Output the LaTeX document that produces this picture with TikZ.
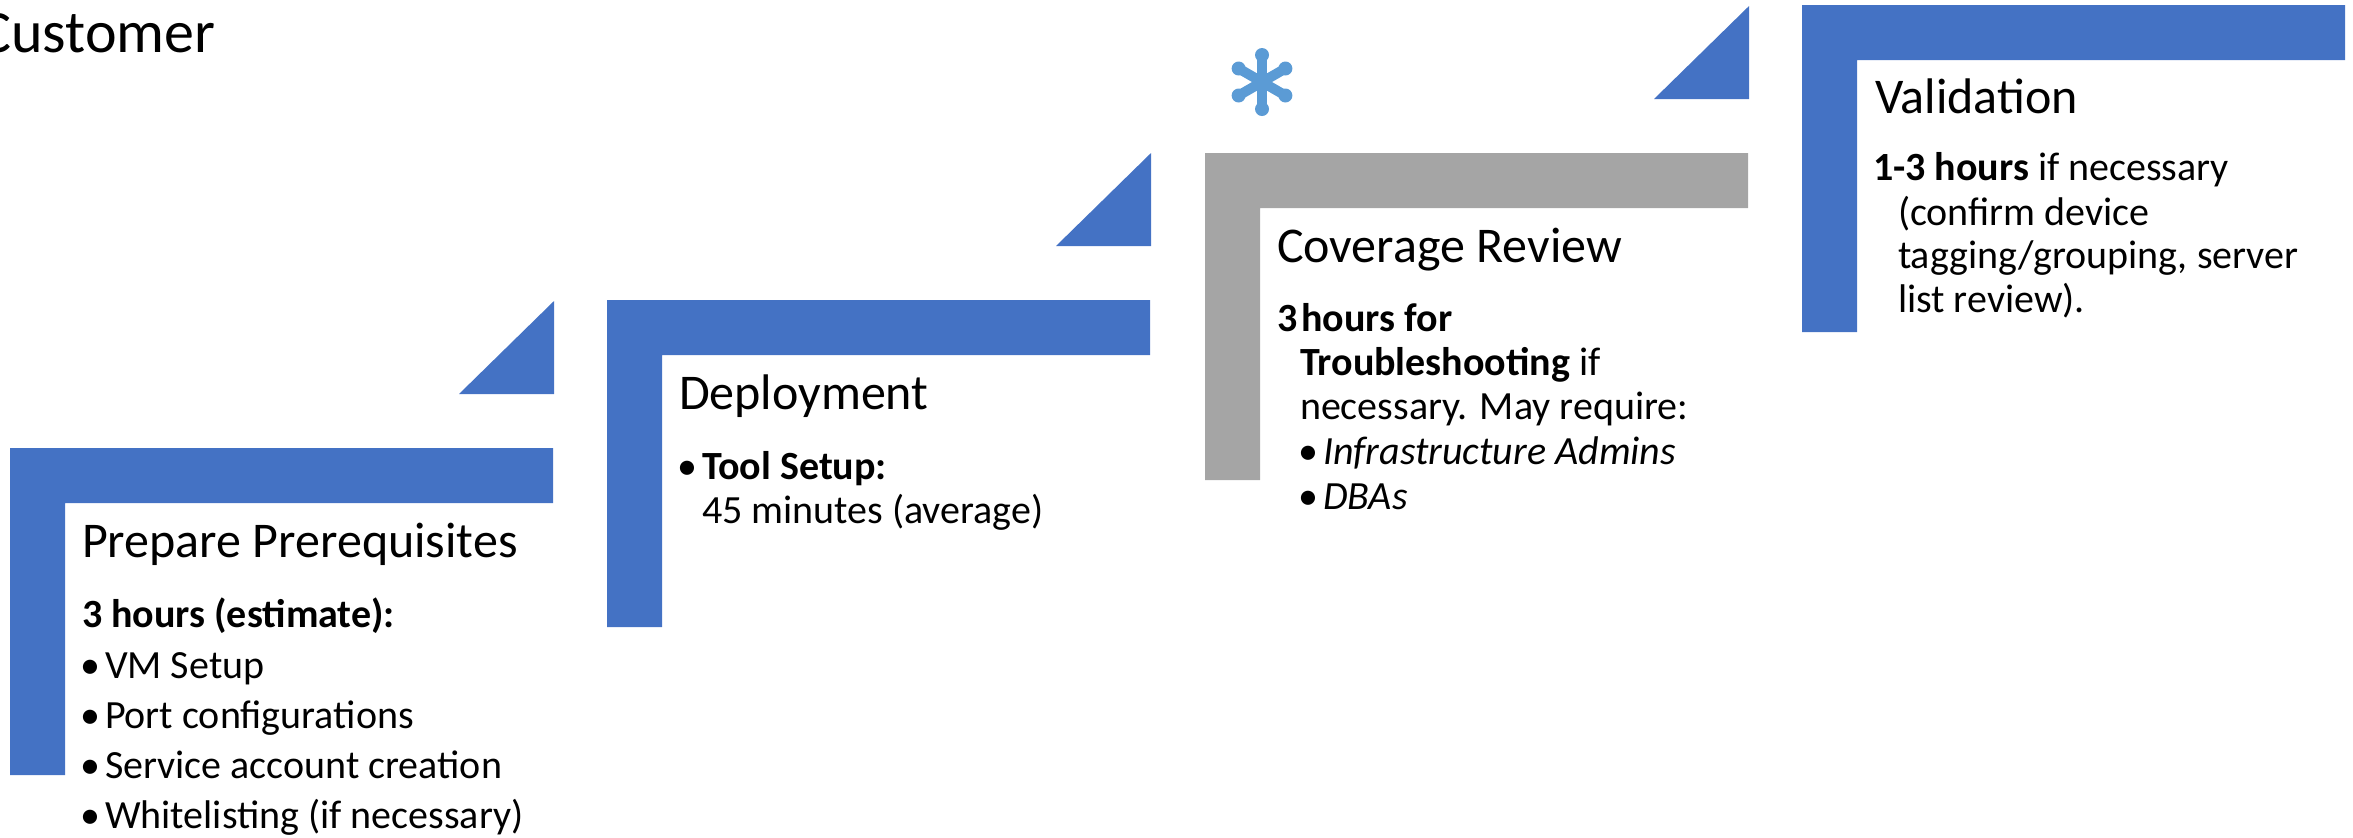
\documentclass[tikz,border=0pt]{standalone}
\usepackage{fontspec}
\setmainfont{Carlito}
\usetikzlibrary{calc}
\definecolor{blueacc}{HTML}{4472C4}
\definecolor{grayacc}{HTML}{A5A5A5}
\definecolor{astblue}{HTML}{5B9BD5}
\begin{document}
\begin{tikzpicture}[x=0.5pt,y=-0.5pt,
  txt/.style={anchor=base west, inner sep=0pt, outer sep=0pt, font=\fontsize{20}{24}\selectfont},
  head/.style={anchor=base west, inner sep=0pt, outer sep=0pt, font=\fontsize{25}{30}\selectfont},
  bul/.style={anchor=base, inner sep=0pt, outer sep=0pt, font=\fontsize{20}{24}\selectfont},
  lshape/.pic={\fill[pic actions] (0,0) -- (543,0) -- (543,55) -- (55,55) -- (55,327) -- (0,327) -- cycle;},
  stair/.pic={\fill[pic actions] (449,-54) -- (544,-54) -- (544,-147) -- cycle;},
  arm/.style={line width=5pt, draw=astblue},
  armend/.style={fill=astblue}
]
\useasboundingbox (0,0) rectangle (2353,837);

% title
\node[anchor=base west, inner sep=0pt, font=\fontsize{30}{36}\selectfont] (title) at (-21,52) {Customer};

% shapes
\pic[fill=blueacc] at (10,448) {lshape};
\pic[fill=blueacc] at (10,448) {stair};
\pic[fill=blueacc] at (607,300) {lshape};
\pic[fill=blueacc] at (607,300) {stair};
\pic[fill=grayacc] at (1205,153) {lshape};
\pic[fill=blueacc] at (1205,153) {stair};
\pic[fill=blueacc] at (1802,5) {lshape};

% asterisk
\coordinate (ast) at (1262,82);
\foreach \a in {90,30,-30}{
  \draw[arm] ($(ast)+(\a:-27)$) -- ($(ast)+(\a:27)$);
  \fill[armend] ($(ast)+(\a:27)$) circle[radius=7];
  \fill[armend] ($(ast)+(\a:-27)$) circle[radius=7];
}

% stage 1
\node[head] (h1) at (82,557) {Prepare Prerequisites};
\node[txt] (t1a) at (82,627) {\textbf{3 hours (estimate):}};
\node[bul] (b1a) at (90,678) {•};
\node[txt] (t1b) at (105,678) {VM Setup};
\node[bul] (b1b) at (90,728) {•};
\node[txt] (t1c) at (105,728) {Port configurations};
\node[bul] (b1c) at (90,778) {•};
\node[txt] (t1d) at (105,778) {Service account creation};
\node[bul] (b1d) at (90,828) {•};
\node[txt] (t1e) at (105,828) {Whitelisting (if necessary)};

% stage 2
\node[head] (h2) at (679,409) {Deployment};
\node[bul] (b2a) at (687,479) {•};
\node[txt] (t2a) at (702,479) {\textbf{Tool Setup:}};
\node[txt] (t2b) at (702,523) {45 minutes (average)};

% stage 3
\node[head] (h3) at (1277,262) {Coverage Review};
\node[txt] (t3a) at (1277,331) {\textbf{3\hspace{0.1em}hours for}};
\node[txt] (t3b) at (1300,375) {\textbf{Troubleshooting} if};
\node[txt] (t3c) at (1300,419) {necessary. May require:};
\node[bul] (b3a) at (1308,464) {•};
\node[txt] (t3d) at (1323,464) {\textit{Infrastructure Admins}};
\node[bul] (b3b) at (1308,509) {•};
\node[txt] (t3e) at (1323,509) {\textit{DBAs}};

% stage 4
\node[head] (h4) at (1875,113) {Validation};
\node[txt] (t4a) at (1873,180) {\textbf{1-3 hours} if necessary};
\node[txt] (t4b) at (1898,225) {(confirm device};
\node[txt] (t4c) at (1898,268) {tagging/grouping, server};
\node[txt] (t4d) at (1898,312) {list review).};
\end{tikzpicture}
\end{document}
